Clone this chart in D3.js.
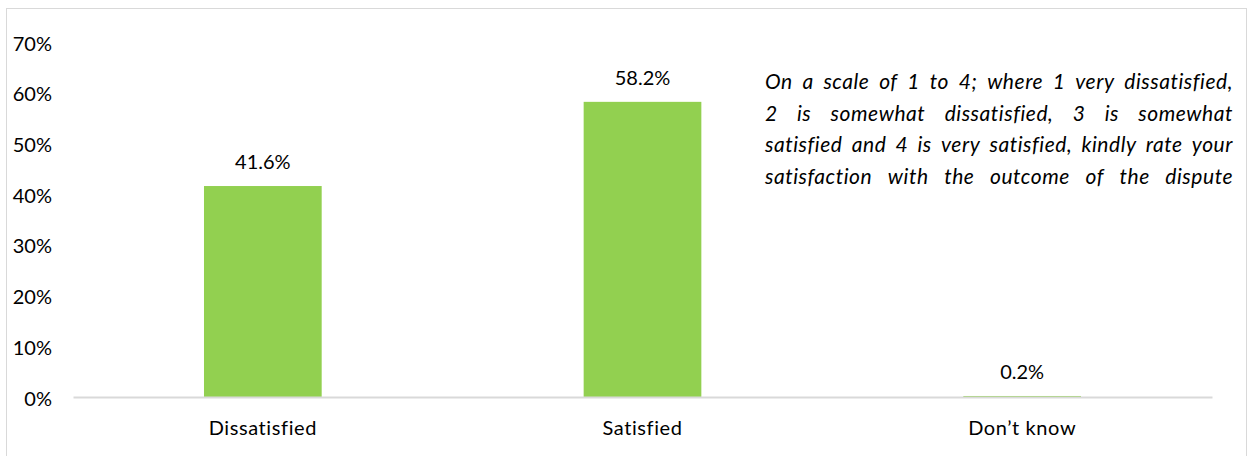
<!DOCTYPE html>
<html>
<head>
<meta charset="utf-8">
<script src="https://cdn.jsdelivr.net/npm/d3@7"></script>
<style>
  html, body { margin: 0; padding: 0; background: #fff; }
  svg { display: block; font-family: "Lato", "Open Sans", sans-serif; font-variant-ligatures: none; }
</style>
</head>
<body>
<svg id="chart" width="1250" height="456"></svg>
<script>
// Survey result: satisfaction with the outcome of the dispute
const categories = ["Dissatisfied", "Satisfied", "Don\u2019t know"];
const values = [41.6, 58.2, 0.2];
const yTicks = [0, 10, 20, 30, 40, 50, 60, 70];
const noteLines = [
  "On a scale of 1 to 4; where 1 very dissatisfied,",
  "2 is somewhat dissatisfied, 3 is somewhat",
  "satisfied and 4 is very satisfied, kindly rate your",
  "satisfaction with the outcome of the dispute"
];

const svg = d3.select("#chart");
const W = 1250, H = 456;
const margin = { left: 73, right: 38, top: 42, bottom: 59 };
const FS = 20;

// outer frame
svg.append("rect")
  .attr("x", 6.5).attr("y", 8.5)
  .attr("width", W - 10).attr("height", H)
  .attr("fill", "none").attr("stroke", "#d9d9d9").attr("stroke-width", 1);

const x = d3.scaleBand()
  .domain(categories)
  .range([margin.left, W - margin.right])
  .paddingInner(0.69).paddingOuter(0.345);

const y = d3.scaleLinear()
  .domain([0, 70])
  .range([H - margin.bottom, margin.top]);

// y axis labels (no axis line, no ticks)
const yAxis = d3.axisLeft(y)
  .tickValues(yTicks)
  .tickFormat(d => d + "%")
  .tickSize(0)
  .tickPadding(0);
const gy = svg.append("g")
  .attr("transform", `translate(52,0)`)
  .call(yAxis);
gy.select(".domain").remove();
gy.selectAll("text")
  .attr("font-family", "Lato, sans-serif")
  .attr("font-size", FS)
  .attr("fill", "#000")
  .attr("dy", "0.4em");

// bars
svg.append("g").selectAll("rect")
  .data(values)
  .join("rect")
  .attr("x", (d, i) => x(categories[i]))
  .attr("width", x.bandwidth())
  .attr("y", d => y(d))
  .attr("height", d => y(0) - y(d))
  .attr("fill", "#92d050");

// baseline and category labels
const xAxis = d3.axisBottom(x).tickSize(0).tickPadding(24);
const gx = svg.append("g")
  .attr("transform", `translate(0,${y(0)})`)
  .call(xAxis);
gx.select(".domain").attr("stroke", "#d9d9d9").attr("stroke-width", 2);
gx.selectAll("text")
  .attr("font-family", "Lato, sans-serif")
  .attr("font-size", FS)
  .attr("letter-spacing", 0.6)
  .attr("fill", "#000");

// value labels
svg.append("g").selectAll("text")
  .data(values)
  .join("text")
  .attr("x", (d, i) => x(categories[i]) + x.bandwidth() / 2)
  .attr("y", d => y(d) - 17)
  .attr("text-anchor", "middle")
  .attr("font-size", FS)
  .attr("fill", "#000")
  .text(d => d.toFixed(1) + "%");

// question note, justified by spreading the words across the line
const noteX = 765, noteW = 468;
const note = svg.append("g")
  .attr("font-style", "italic")
  .attr("font-size", 21)
  .attr("letter-spacing", 0.55)
  .attr("fill", "#000");
noteLines.forEach((line, i) => {
  const words = line.split(" ");
  const ty = 89 + i * 31.5;
  const nodes = words.map(w => note.append("text").attr("y", ty).text(w));
  const widths = nodes.map(n => n.node().getComputedTextLength());
  const total = d3.sum(widths);
  const gap = (noteW - total) / (words.length - 1);
  let cx = noteX;
  nodes.forEach((n, k) => {
    n.attr("x", cx);
    cx += widths[k] + gap;
  });
});
</script>
</body>
</html>
